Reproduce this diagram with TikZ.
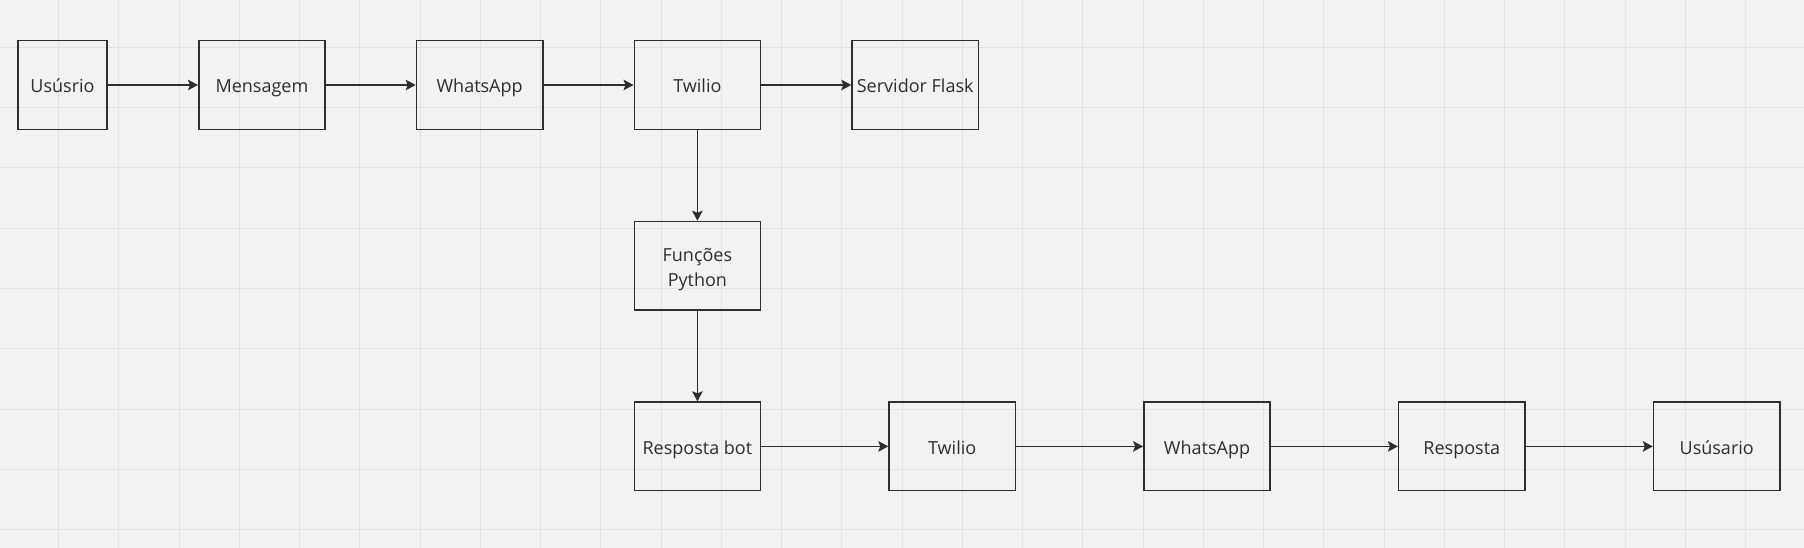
\documentclass[tikz,border=0pt]{standalone}
\usepackage{fontspec}
\setmainfont{Open Sans}
\usepackage{tikz}
\usetikzlibrary{arrows.meta}
\definecolor{bgc}{HTML}{F2F2F2}
\definecolor{gridc}{HTML}{E2E2E2}
\definecolor{inkc}{HTML}{2E2E2E}

\begin{document}
\begin{tikzpicture}[x=1pt, y=-1pt, rect/.style={draw=inkc, line width=1.5pt,
		inner sep=0pt, minimum width=126.3pt, minimum height=88.6pt, text=inkc,
		align=center, text height=19.4pt, text depth=4pt,
		font=\fontsize{18}{25}\selectfont}, arro/.style={draw=inkc,
		line width=1.5pt, -{Stealth[length=10pt,width=10.5pt,inset=2pt]}}]
	\fill [bgc] (0,0) rectangle (1804,548);
	\useasboundingbox (0,0) rectangle (1804,548);
	\foreach \i in {0,...,28}
		\draw [gridc, line width=1.2pt] (58.6+60.25*\i,0)--(58.6+60.25*\i,548);
	\foreach \j in {0,...,8}
		\draw [gridc, line width=1.2pt] (0,47.3+60.3*\j)--(1804,47.3+60.3*\j);
	\node [rect, minimum width=89pt] (0) at (62.5,85) {Usúsrio};
	\node [rect] (1) at (261.9,85) {Mensagem};
	\node [rect] (2) at (479.6,85) {WhatsApp};
	\node [rect] (3) at (697.4,85) {Twilio};
	\node [rect] (4) at (915.2,85) {Servidor Flask};
	\node [rect, text height=44.4pt] (5) at (697.4,265.8) {Funções\\Python};
	\node [rect] (6) at (697.4,446.4) {Resposta bot};
	\node [rect] (7) at (952.2,446.4) {Twilio};
	\node [rect] (8) at (1207,446.4) {WhatsApp};
	\node [rect] (9) at (1461.8,446.4) {Resposta};
	\node [rect] (10) at (1716.7,446.4) {Usúsario};
	\draw [arro] (0) to (1);
	\draw [arro] (1) to (2);
	\draw [arro] (2) to (3);
	\draw [arro] (3) to (4);
	\draw [arro] (3) to (5);
	\draw [arro] (5) to (6);
	\draw [arro] (6) to (7);
	\draw [arro] (7) to (8);
	\draw [arro] (8) to (9);
	\draw [arro] (9) to (10);
	\end{tikzpicture}
\end{document}
